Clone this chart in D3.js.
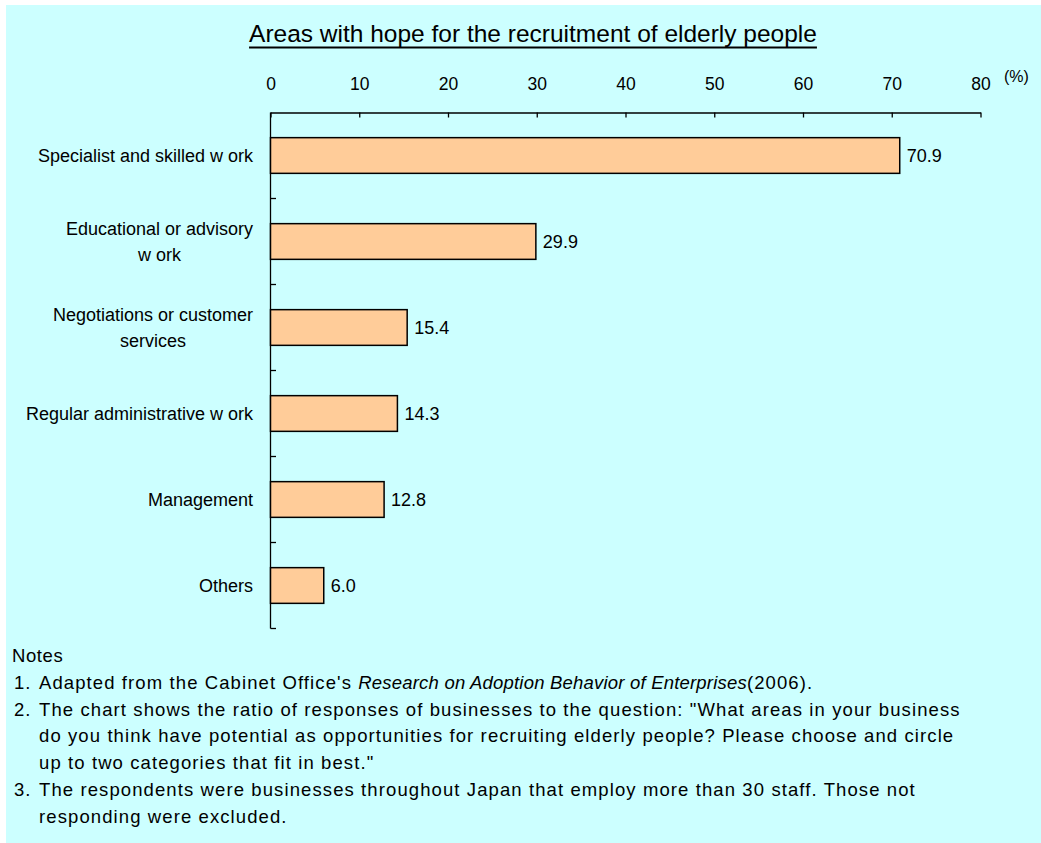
<!DOCTYPE html>
<html>
<head>
<meta charset="utf-8">
<script src="https://cdn.jsdelivr.net/npm/d3@7"></script>
<style>
  html, body { margin: 0; padding: 0; background: #ffffff; }
  svg { display: block; font-family: "Liberation Sans", Arial, sans-serif; }
</style>
</head>
<body>
<svg id="chart" width="1041" height="843"></svg>
<script>
// Survey categories (each entry is a list of label lines) and their shares (%)
const categories = [
  ["Specialist and skilled w ork"],
  ["Educational or advisory", "w ork"],
  ["Negotiations or customer", "services"],
  ["Regular administrative w ork"],
  ["Management"],
  ["Others"]
];
const values = [70.9, 29.9, 15.4, 14.3, 12.8, 6.0];
const xTicks = [0, 10, 20, 30, 40, 50, 60, 70, 80];

const titleText = "Areas with hope for the recruitment of elderly people";
const unitText = "(%)";
const notesHeading = "Notes";
const notes = [
  [["1.", false], ["Adapted from the Cabinet Office's ", false], ["Research on Adoption Behavior of Enterprises", true], ["(2006).", false]],
  [["2.", false], ["The chart shows the ratio of responses of businesses to the question: \"What areas in your business", false]],
  [["", false], ["do you think have potential as opportunities for recruiting elderly people? Please choose and circle", false]],
  [["", false], ["up to two categories that fit in best.\"", false]],
  [["3.", false], ["The respondents were businesses throughout Japan that employ more than 30 staff. Those not", false]],
  [["", false], ["responding were excluded.", false]]
];

const svg = d3.select("#chart");

// panel background
svg.append("rect")
  .attr("x", 6).attr("y", 5)
  .attr("width", 1041 - 6).attr("height", 843 - 5)
  .attr("fill", "#ccffff");

// title with underline
const title = svg.append("text")
  .attr("x", 533).attr("y", 42)
  .attr("text-anchor", "middle")
  .attr("font-size", 24.5)
  .attr("fill", "#000")
  .text(titleText);
const tb = title.node().getBBox();
svg.append("line")
  .attr("x1", tb.x).attr("x2", tb.x + tb.width)
  .attr("y1", 47.5).attr("y2", 47.5)
  .attr("stroke", "#000").attr("stroke-width", 2);

// scales
const x = d3.scaleLinear().domain([0, 80]).range([270.5, 980.5]);
const y = d3.scaleBand()
  .domain(d3.range(categories.length))
  .range([112.5, 628.5])
  .paddingInner(0.585)
  .paddingOuter(0.2925);

// top value axis
const xAxis = svg.append("g")
  .attr("transform", "translate(0,112.5)")
  .call(d3.axisTop(x).tickValues(xTicks).tickSize(-5).tickSizeOuter(0).tickFormat(d3.format("d")));
xAxis.select(".domain").attr("stroke", "#000").attr("stroke-width", 1.3);
xAxis.selectAll(".tick line").attr("stroke", "#000").attr("stroke-width", 1.3);
xAxis.selectAll(".tick text")
  .attr("y", -23)
  .attr("font-size", 17.5)
  .attr("font-family", "Liberation Sans, Arial, sans-serif")
  .attr("fill", "#000");

svg.append("text")
  .attr("x", 1004).attr("y", 82)
  .attr("font-size", 16)
  .attr("fill", "#000")
  .text(unitText);

// left category axis: line plus boundary ticks between categories
const yStep = y.step();
const boundaries = d3.range(1, categories.length + 1).map(i => 112.5 + i * yStep);
svg.append("line")
  .attr("x1", 270.5).attr("x2", 270.5)
  .attr("y1", 112.5).attr("y2", 628.5)
  .attr("stroke", "#000").attr("stroke-width", 1.3);
svg.selectAll("line.ytick").data(boundaries).join("line")
  .attr("class", "ytick")
  .attr("x1", 270.5).attr("x2", 276)
  .attr("y1", d => d).attr("y2", d => d)
  .attr("stroke", "#000").attr("stroke-width", 1.3);

// bars
svg.selectAll("rect.bar").data(values).join("rect")
  .attr("class", "bar")
  .attr("x", x(0))
  .attr("y", (d, i) => y(i))
  .attr("width", d => x(d) - x(0))
  .attr("height", y.bandwidth())
  .attr("fill", "#ffcc99")
  .attr("stroke", "#000")
  .attr("stroke-width", 1.5);

// value labels
svg.selectAll("text.val").data(values).join("text")
  .attr("class", "val")
  .attr("x", d => x(d) + 7)
  .attr("y", (d, i) => y(i) + y.bandwidth() / 2)
  .attr("dy", "0.36em")
  .attr("font-size", 18)
  .attr("fill", "#000")
  .text(d => d3.format(".1f")(d));

// category labels: block right-aligned to the axis, lines centred within the block
const labelRight = 253;
const lineGap = 26;
categories.forEach((lines, i) => {
  const cy = y(i) + y.bandwidth() / 2;
  const g = svg.append("g");
  const texts = lines.map((ln, k) => g.append("text")
    .attr("y", cy + (k - (lines.length - 1) / 2) * lineGap)
    .attr("dy", "0.36em")
    .attr("font-size", 18)
    .attr("fill", "#000")
    .text(ln));
  const maxW = d3.max(texts, t => t.node().getComputedTextLength());
  texts.forEach(t => t.attr("text-anchor", "middle").attr("x", labelRight - maxW / 2));
});

// notes
svg.append("text")
  .attr("x", 12).attr("y", 662)
  .attr("font-size", 18.5)
  .attr("letter-spacing", 0.6)
  .attr("fill", "#000")
  .text(notesHeading);
notes.forEach((parts, i) => {
  const ly = 689 + i * 26.7;
  svg.append("text")
    .attr("x", 14).attr("y", ly)
    .attr("font-size", 18.5).attr("letter-spacing", 1)
    .attr("fill", "#000")
    .text(parts[0][0]);
  const t = svg.append("text")
    .attr("x", 39).attr("y", ly)
    .attr("font-size", 18.5)
    .attr("fill", "#000");
  parts.slice(1).forEach(([s, it]) => {
    t.append("tspan")
      .attr("font-style", it ? "italic" : "normal")
      .attr("letter-spacing", it ? 0.2 : 1.1)
      .text(s);
  });
});
</script>
</body>
</html>
